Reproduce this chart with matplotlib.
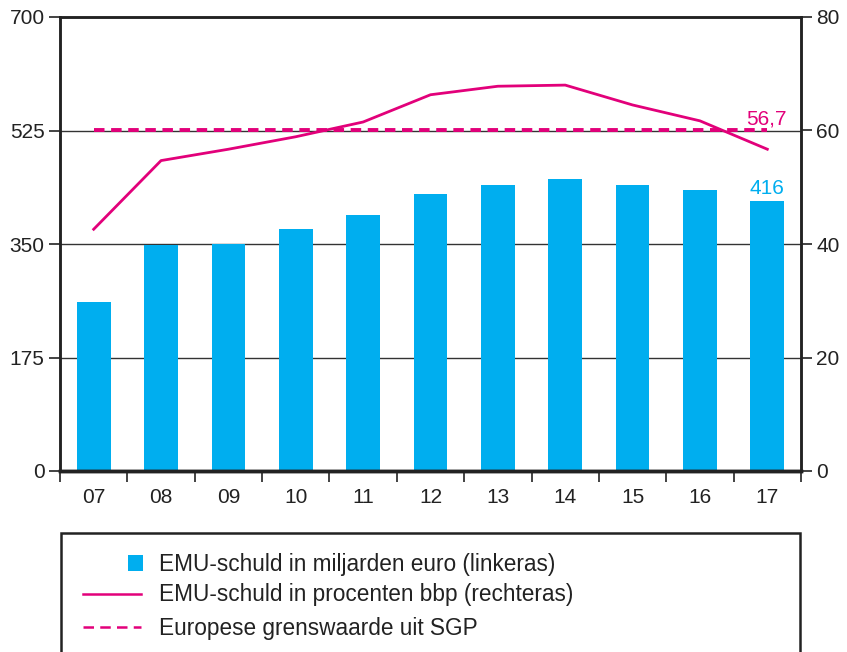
import matplotlib
matplotlib.use("Agg")
import matplotlib.pyplot as plt
from matplotlib.patches import Rectangle
from matplotlib.lines import Line2D

plt.rcParams['font.family'] = ['Liberation Sans', 'DejaVu Sans']

years = ["07", "08", "09", "10", "11", "12", "13", "14", "15", "16", "17"]
debt_bn = [261, 348, 350, 373, 395, 427, 441, 450, 441, 433, 416]
debt_pct = [42.6, 54.7, 56.7, 58.9, 61.5, 66.3, 67.8, 68.0, 64.5, 61.7, 56.7]
sgp_limit = 60
left_ticks = [0, 175, 350, 525, 700]
right_ticks = [0, 20, 40, 60, 80]
legend_labels = ["EMU-schuld in miljarden euro (linkeras)",
                 "EMU-schuld in procenten bbp (rechteras)",
                 "Europese grenswaarde uit SGP"]

BLUE = "#00AEEF"
MAGENTA = "#E2007A"
DARK = "#222222"
W, H = 847, 652

fig = plt.figure(figsize=(W / 100, H / 100), dpi=100)
ax = fig.add_axes([60 / W, 1 - 471 / H, (801 - 60) / W, (471 - 17) / H])
x = list(range(len(years)))

ax.set_ylim(0, 700)
ax.set_xlim(-0.5, len(years) - 0.5)
for t in left_ticks[1:-1]:
    ax.axhline(t, color="#333333", lw=1.0, zorder=0)
ax.bar(x, debt_bn, width=0.5, color=BLUE, zorder=2)

ax2 = ax.twinx()
ax2.set_ylim(0, 80)
ax2.plot(x, debt_pct, color=MAGENTA, lw=2.0, zorder=3)
ax2.plot([x[0], x[-1]], [sgp_limit, sgp_limit], color=MAGENTA, lw=2.8,
         ls=(0, (2.7, 1.7)), zorder=3)

ax2.text(x[-1] + 0.28, 61.1, ("%.1f" % debt_pct[-1]).replace(".", ","), color=MAGENTA,
         fontsize=15, ha="right", va="baseline")
ax.text(x[-1], debt_bn[-1] + 11, str(debt_bn[-1]), color=BLUE,
        fontsize=15, ha="center", va="baseline")

ax.set_yticks(left_ticks)
ax.set_yticklabels([str(t) for t in left_ticks])
ax2.set_yticks(right_ticks)
ax2.set_yticklabels([str(t) for t in right_ticks])
ax.set_xticks(x)
ax.set_xticklabels(years)
ax.set_xticks([i - 0.5 for i in range(len(years) + 1)], minor=True)
ax.tick_params(axis="x", which="major", length=0, pad=12, labelsize=15, colors=DARK)
ax.tick_params(axis="x", which="minor", length=8, width=1.2, color=DARK)
ax.tick_params(axis="y", length=8, width=1.2, labelsize=15, pad=3, colors=DARK)
ax2.tick_params(axis="y", length=8, width=1.2, labelsize=15, pad=3, colors=DARK)

for a in (ax, ax2):
    for s in a.spines.values():
        s.set_color(DARK)
        s.set_linewidth(1.8)
ax.spines["bottom"].set_linewidth(2.5)
ax2.spines["bottom"].set_linewidth(2.5)

# Legend box
fig.patches.append(Rectangle((61 / W, -0.05), (800 - 61) / W, 0.05 + 1 - 533 / H,
                             transform=fig.transFigure, fill=False,
                             edgecolor=DARK, lw=1.8))
fig.patches.append(Rectangle((128 / W, 1 - 571 / H), 15 / W, 16 / H,
                             transform=fig.transFigure, facecolor=BLUE, edgecolor="none"))
fig.lines.append(Line2D([83 / W, 141 / W], [1 - 594 / H] * 2, transform=fig.transFigure,
                        color=MAGENTA, lw=1.8))
fig.lines.append(Line2D([83 / W, 141 / W], [1 - 627 / H] * 2, transform=fig.transFigure,
                        color=MAGENTA, lw=1.8, ls=(0, (4.2, 2.5))))
for lbl, yy in zip(legend_labels, [564, 595, 628]):
    fig.text(159 / W, 1 - yy / H, lbl, fontsize=16.3, va="center", ha="left", color=DARK)

fig.savefig("out.png", dpi=100)
